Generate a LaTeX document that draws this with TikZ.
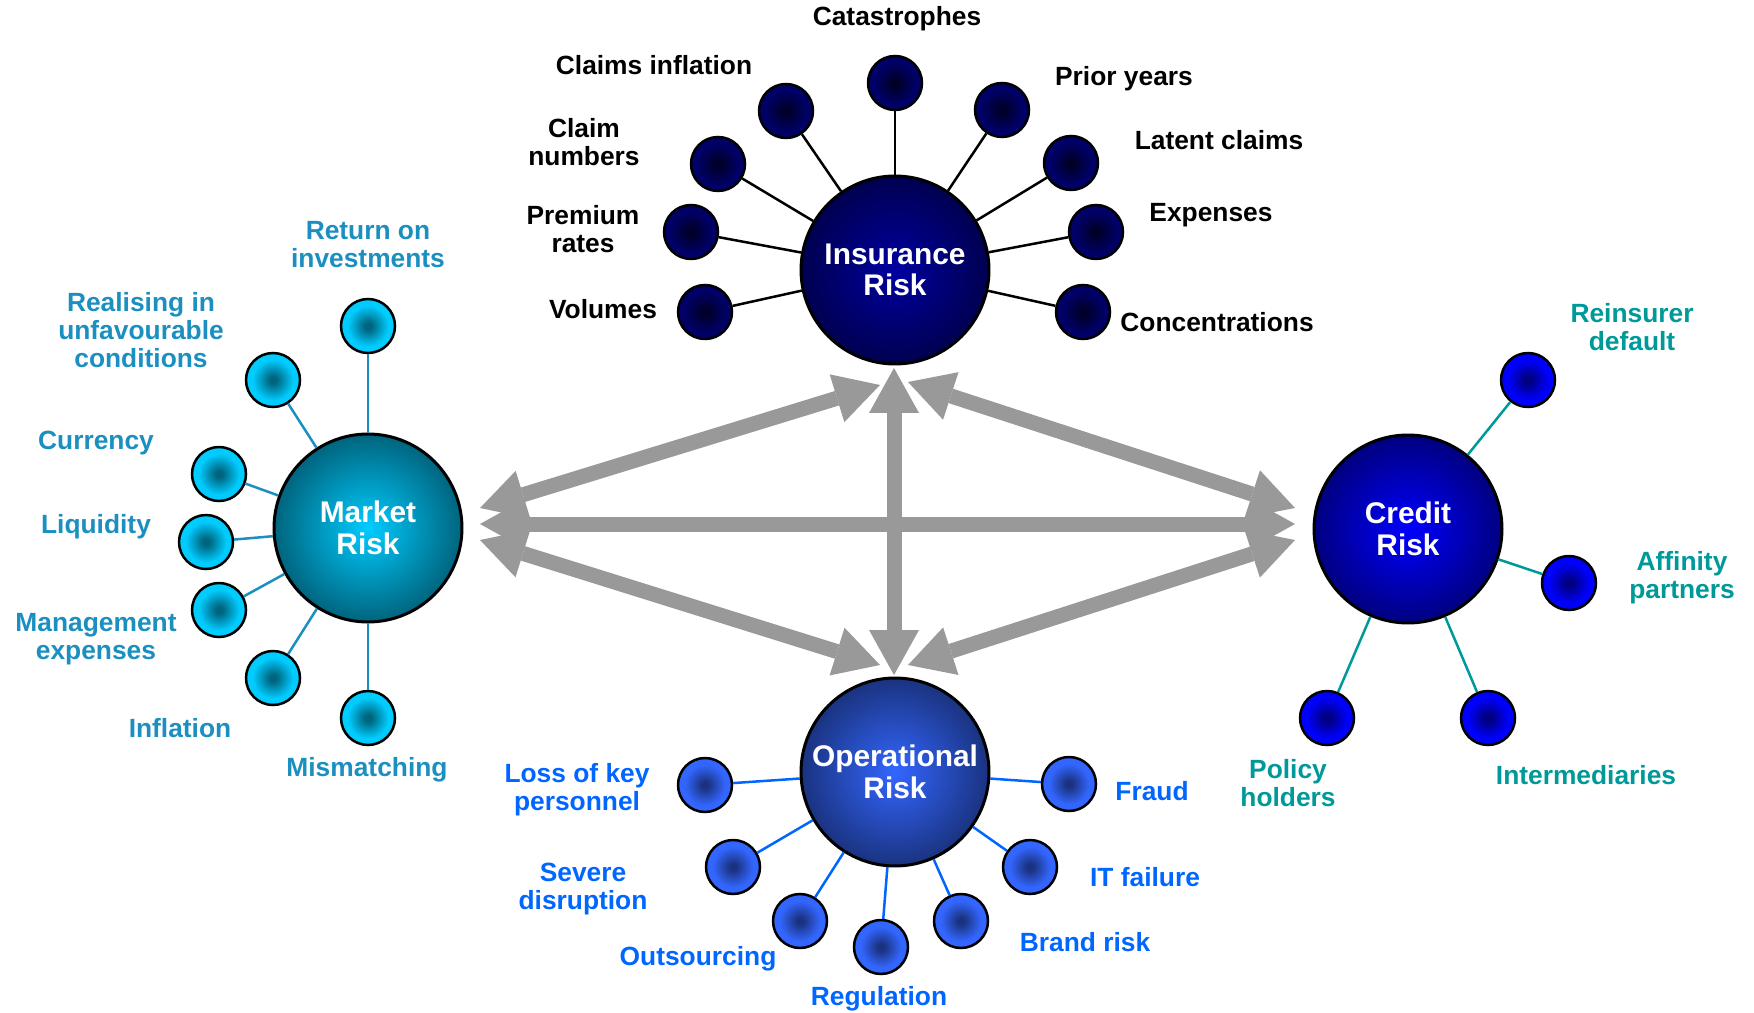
\documentclass[tikz,border=0pt]{standalone}
\usepackage{fontspec}
\setmainfont{Liberation Sans}
\usetikzlibrary{arrows.meta}
\definecolor{insin}{HTML}{0000A0}
\definecolor{insout}{HTML}{000050}
\definecolor{insdotc}{HTML}{00002A}
\definecolor{insdoto}{HTML}{000066}
\definecolor{mktin}{HTML}{00CCFF}
\definecolor{mktout}{HTML}{00647E}
\definecolor{opin}{HTML}{3366FF}
\definecolor{opout}{HTML}{1A3380}
\definecolor{crin}{HTML}{0000FF}
\definecolor{crout}{HTML}{000080}
\definecolor{mkttxt}{HTML}{1B8FC0}
\definecolor{optxt}{HTML}{0066FF}
\definecolor{crtxt}{HTML}{009999}
\definecolor{arrgray}{HTML}{999999}
\pgfdeclareradialshading{insdotsh}{\pgfpoint{0bp}{0bp}}{color(0bp)=(insdotc); color(3bp)=(insdotc); color(19bp)=(insdoto); color(50bp)=(insdoto)}
\pgfdeclareradialshading{mktdotsh}{\pgfpoint{0bp}{0bp}}{color(0bp)=(mktout); color(3bp)=(mktout); color(19bp)=(mktin); color(50bp)=(mktin)}
\pgfdeclareradialshading{opdotsh}{\pgfpoint{0bp}{0bp}}{color(0bp)=(opout); color(3bp)=(opout); color(19bp)=(opin); color(50bp)=(opin)}
\pgfdeclareradialshading{crdotsh}{\pgfpoint{0bp}{0bp}}{color(0bp)=(crout); color(3bp)=(crout); color(19bp)=(crin); color(50bp)=(crin)}
\tikzset{
  bigcirc/.style={circle, draw=black, line width=0.06cm, minimum size=3.76cm, inner sep=0pt, text=white, align=center, font=\bfseries\fontsize{17}{18}\selectfont},
  riskdot/.style={circle, draw=black, line width=0.05cm, minimum size=1.08cm, inner sep=0pt, shade},
  lbl/.style={align=center, font=\bfseries\fontsize{15}{16}\selectfont},
  bigarrow/.style={draw=arrgray, line width=0.3cm, {Triangle[length=0.9cm,width=1cm,line width=0pt]}-{Triangle[length=0.9cm,width=1cm,line width=0pt]}}
}
\begin{document}
\begin{tikzpicture}[x=0.02cm, y=-0.02cm]
\useasboundingbox (0,0) rectangle (1754,1013);
% four risk groups
\node[bigcirc, inner color=insin, outer color=insout] at (895,270) (ins) {Insurance\\Risk};
\node[bigcirc, inner color=mktin, outer color=mktout] at (368,528) (mkt) {Market\\Risk};
\node[bigcirc, inner color=opin, outer color=opout] at (895,772) (op) {Operational\\Risk};
\node[bigcirc, inner color=crin, outer color=crout] at (1408,529) (cr) {Credit\\Risk};

% arrows between the groups
\coordinate (mkI) at (480,508); \coordinate (mkC) at (480,524); \coordinate (mkO) at (480,540);
\coordinate (crI) at (1295,508); \coordinate (crM) at (1295,524); \coordinate (crO) at (1295,540);
\coordinate (inM) at (880,385); \coordinate (inO) at (894,368); \coordinate (inC) at (908,382);
\coordinate (opM) at (880,665); \coordinate (opI) at (894,675); \coordinate (opC) at (908,665);
\draw[bigarrow] (mkC) -- (crM); \draw[bigarrow] (inO) -- (opI);
\draw[bigarrow] (mkI) -- (inM); \draw[bigarrow] (mkO) -- (opM);
\draw[bigarrow] (crI) -- (inC); \draw[bigarrow] (crO) -- (opC);

% insurance risk
\node[riskdot, shading=insdotsh] at (895,83) (i1) {}; \node[riskdot, shading=insdotsh] at (786,111) (i2) {}; \node[riskdot, shading=insdotsh] at (1002,110) (i3) {};
\node[riskdot, shading=insdotsh] at (718,164) (i4) {}; \node[riskdot, shading=insdotsh] at (1071,163) (i5) {};
\node[riskdot, shading=insdotsh] at (691,232) (i6) {}; \node[riskdot, shading=insdotsh] at (1096,232) (i7) {};
\node[riskdot, shading=insdotsh] at (705,312) (i8) {}; \node[riskdot, shading=insdotsh] at (1083,312) (i9) {};
\foreach \n in {i1,i2,i3,i4,i5,i6,i7,i8,i9} \draw[line width=0.05cm] (ins) -- (\n);
\node[lbl] at (897,19) (li1) {Catastrophes}; \node[lbl] at (654,65) (li2) {Claims inflation}; \node[lbl] at (1124,79) (li3) {Prior years};
\node[lbl] at (584,142) (li4) {Claim\\numbers}; \node[lbl] at (1219,140) (li5) {Latent claims};
\node[lbl] at (583,229) (li6) {Premium\\rates}; \node[lbl] at (1211,215) (li7) {Expenses};
\node[lbl] at (603,309) (li8) {Volumes}; \node[lbl] at (1217,322) (li9) {Concentrations};

% market risk
\node[riskdot, shading=mktdotsh] at (368,326) (m1) {}; \node[riskdot, shading=mktdotsh] at (273,380) (m2) {};
\node[riskdot, shading=mktdotsh] at (219,474) (m3) {}; \node[riskdot, shading=mktdotsh] at (206,542) (m4) {};
\node[riskdot, shading=mktdotsh] at (219,610) (m5) {}; \node[riskdot, shading=mktdotsh] at (273,678) (m6) {};
\node[riskdot, shading=mktdotsh] at (368,718) (m7) {};
\foreach \n in {m1,m2,m3,m4,m5,m6,m7} \draw[mkttxt, line width=0.05cm] (mkt) -- (\n);
\node[lbl, text=mkttxt] at (368,245) (lm1) {Return on\\investments}; \node[lbl, text=mkttxt] at (141,330) (lm2) {Realising in\\unfavourable\\conditions};
\node[lbl, text=mkttxt] at (96,443) (lm3) {Currency}; \node[lbl, text=mkttxt] at (96,527) (lm4) {Liquidity};
\node[lbl, text=mkttxt] at (96,639) (lm5) {Management\\expenses}; \node[lbl, text=mkttxt] at (180,728) (lm6) {Inflation};
\node[lbl, text=mkttxt] at (367,770) (lm7) {Mismatching};

% operational risk
\node[riskdot, shading=opdotsh] at (705,785) (o1) {}; \node[riskdot, shading=opdotsh] at (733,867) (o2) {};
\node[riskdot, shading=opdotsh] at (800,921) (o3) {}; \node[riskdot, shading=opdotsh] at (881,947) (o4) {};
\node[riskdot, shading=opdotsh] at (961,921) (o5) {}; \node[riskdot, shading=opdotsh] at (1030,867) (o6) {};
\node[riskdot, shading=opdotsh] at (1069,784) (o7) {};
\foreach \n in {o1,o2,o3,o4,o5,o6,o7} \draw[optxt, line width=0.05cm] (op) -- (\n);
\node[lbl, text=optxt] at (577,790) (lo1) {Loss of key\\personnel}; \node[lbl, text=optxt] at (583,889) (lo2) {Severe\\disruption};
\node[lbl, text=optxt] at (698,959) (lo3) {Outsourcing}; \node[lbl, text=optxt] at (879,999) (lo4) {Regulation};
\node[lbl, text=optxt] at (1085,942) (lo5) {Brand risk}; \node[lbl, text=optxt] at (1145,877) (lo6) {IT failure};
\node[lbl, text=optxt] at (1152,791) (lo7) {Fraud};

% credit risk
\node[riskdot, shading=crdotsh] at (1528,380) (c1) {}; \node[riskdot, shading=crdotsh] at (1569,583) (c2) {};
\node[riskdot, shading=crdotsh] at (1488,718) (c3) {}; \node[riskdot, shading=crdotsh] at (1327,718) (c4) {};
\foreach \n in {c1,c2,c3,c4} \draw[crtxt, line width=0.05cm] (cr) -- (\n);
\node[lbl, text=crtxt] at (1632,327) (lc1) {Reinsurer\\default}; \node[lbl, text=crtxt] at (1682,578) (lc2) {Affinity\\partners};
\node[lbl, text=crtxt] at (1586,775) (lc3) {Intermediaries}; \node[lbl, text=crtxt] at (1288,783) (lc4) {Policy\\holders};
\end{tikzpicture}
\end{document}
